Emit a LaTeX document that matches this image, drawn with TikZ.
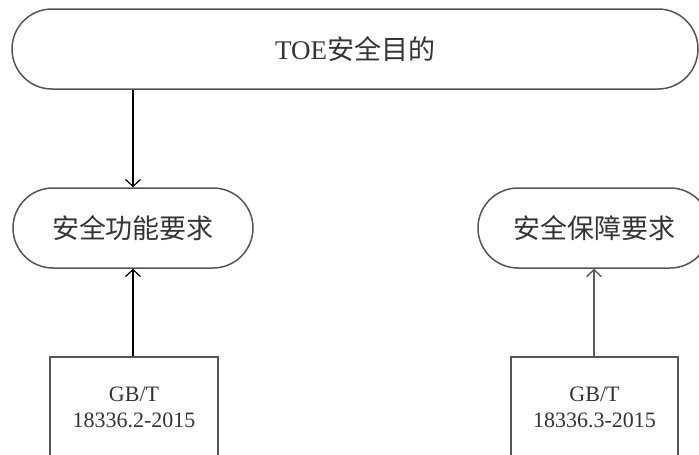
\documentclass[tikz,border=0pt]{standalone}
\usepackage{fontspec}
\setmainfont{Liberation Serif}
\newfontfamily\cjk{Noto Sans CJK SC}
\usetikzlibrary{arrows.meta}
\definecolor{edge}{HTML}{555555}
\definecolor{txt}{HTML}{333333}
\definecolor{garrow}{HTML}{5A5A5A}
\begin{document}
\begin{tikzpicture}[x=1pt,y=-1pt,
  stadium/.style={draw=edge,line width=1.5pt,rounded corners=40pt,minimum height=80pt,inner sep=0pt,
    text=txt,font=\fontsize{27}{30}\selectfont},
  stdbox/.style={draw=edge,line width=1.5pt,minimum height=100pt,inner sep=0pt,align=center,
    text=txt,font=\fontsize{22}{26}\selectfont},
  arr/.style={black,line width=1.5pt,-{Straight Barb[length=7pt,width=15pt,line width=1.2pt]}},
  garr/.style={garrow,line width=2.5pt,-{Straight Barb[length=7pt,width=15pt,line width=1.4pt]}}]
\clip (0,0) rectangle (699,455);
\node[stadium,minimum width=686pt] (goal) at (355,49) {TOE{\cjk 安全目的}};
\node[stadium,minimum width=240pt] (sfr) at (133,228) {\cjk 安全功能要求};
\node[stadium,minimum width=232pt] (sar) at (594,228) {\cjk 安全保障要求};
\node[stdbox,minimum width=168pt] (p2) at (134,407) {GB/T\\18336.2-2015};
\node[stdbox,minimum width=167pt] (p3) at (594.5,407) {GB/T\\18336.3-2015};
\draw[arr] (goal.south -| sfr.north) -- (sfr.north);
\draw[arr] (p2.north -| sfr.south) -- (sfr.south);
\draw[garr] (p3.north -| sar.south) -- (sar.south);
\end{tikzpicture}
\end{document}
